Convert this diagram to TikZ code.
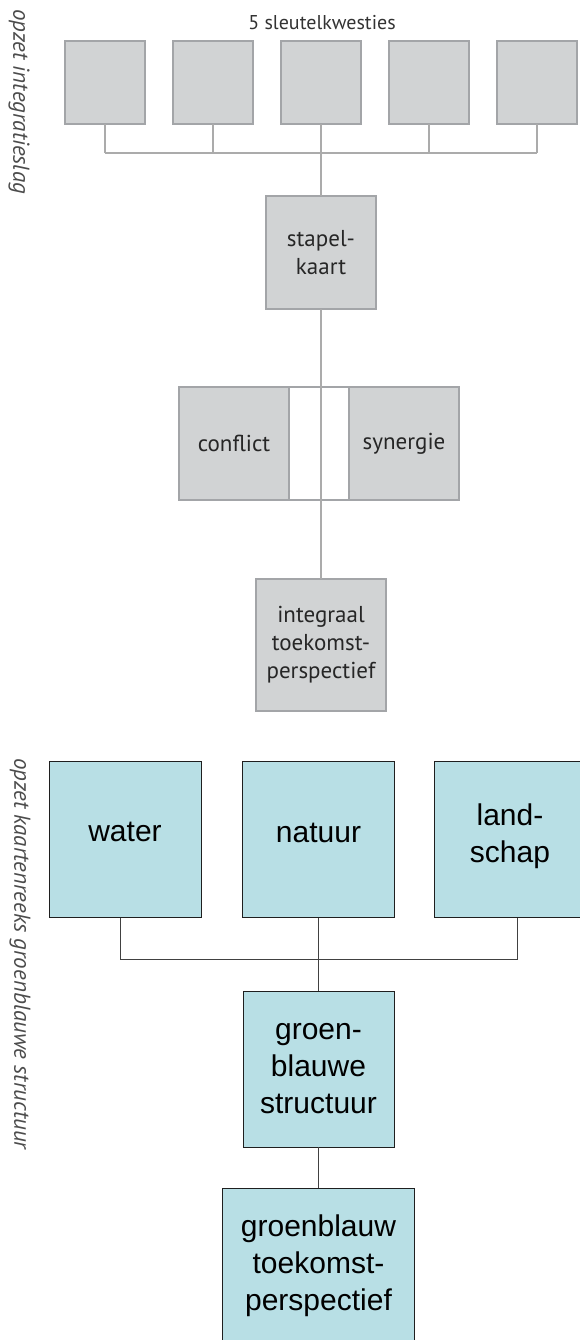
\documentclass[tikz,border=0pt]{standalone}
\usepackage{fontspec}
\setmainfont{Liberation Sans}
\newfontfamily\myriad{PT Sans}
\usepackage{xcolor}
\usepackage{tikz}
\definecolor{kaartgrijs}{HTML}{D1D3D4}
\definecolor{randgrijs}{HTML}{A3A5A8}
\definecolor{lijngrijs}{HTML}{ABABAB}
\definecolor{kaartblauw}{HTML}{B8DFE5}
\definecolor{randdonker}{HTML}{1F1F1F}

\begin{document}
\begin{tikzpicture}[x=1pt,y=-1pt,
  grijs/.style={draw=randgrijs,fill=kaartgrijs,line width=1.2pt,inner sep=0pt,outer sep=0pt,align=center,text=black!85,font=\myriad\fontsize{23}{28}\selectfont},
  blauw/.style={draw=randdonker,fill=kaartblauw,line width=1pt,inner sep=0pt,outer sep=0pt,align=center,minimum width=152pt,minimum height=156pt,font=\fontsize{30}{37}\selectfont},
  grijslijn/.style={draw=lijngrijs,line width=1.2pt},
  donkerlijn/.style={draw=randdonker!85,line width=1pt},
  zijtekst/.style={rotate=-90,anchor=west,inner sep=0pt,text=black!70,font=\myriad\itshape\fontsize{23}{27}\selectfont}]
\useasboundingbox (0,0) rectangle (580,1340);
\node[zijtekst] (label1) at (19,9) {opzet integratieslag};
\node[zijtekst] (label2) at (20,758) {opzet kaartenreeks groenblauwe structuur};

\node[text=black!80,font=\myriad\fontsize{20}{24}\selectfont] (titel) at (322,23) {5 sleutelkwesties};
\foreach \i in {1,...,5}
  \node[grijs,minimum width=80pt,minimum height=83pt] (kwestie\i) at ({105+108*(\i-1)},82.5) {};
\node[grijs,minimum width=110pt,minimum height=113pt] (stapel) at (321,252.5) {stapel-\\kaart};
\node[grijs,minimum width=110pt,minimum height=113pt] (conflict) at (234,443.5) {conflict};
\node[grijs,fill=white,minimum width=60pt,minimum height=113pt,anchor=west] (tussen) at (conflict.east) {};
\node[grijs,minimum width=110pt,minimum height=113pt,anchor=west,text depth=4pt] (synergie) at (tussen.east) {synergie};
\node[grijs,minimum width=130pt,minimum height=132pt] (integraal) at (321,645) {integraal\\toekomst-\\perspectief};

\coordinate (bus) at (321,153);
\foreach \i in {1,...,5}
  \draw[grijslijn] (kwestie\i.south) -- (kwestie\i.south |- bus);
\draw[grijslijn] (kwestie1.south |- bus) -- (kwestie5.south |- bus);
\draw[grijslijn] (kwestie3.south) -- (stapel.north);
\draw[grijslijn] (stapel.south) -- (integraal.north);

\node[blauw,text depth=16pt] (water) at (125,839.5) {water};
\node[blauw,text depth=14pt] (natuur) at (318.5,839.5) {natuur};
\node[blauw,text depth=13pt] (landschap) at (510,839.5) {land-\\schap};
\node[blauw,minimum width=151pt] (structuur) at (318.5,1069) {groen-\\blauwe\\structuur};
\node[blauw,minimum width=192pt] (perspectief) at (318.5,1266) {groenblauw\\toekomst-\\perspectief};

\coordinate (bus2) at (318.5,959);
\draw[donkerlijn] ([xshift=-5pt]water.south) |- (bus2) -| ([xshift=7pt]landschap.south);
\draw[donkerlijn] (natuur.south) -- (structuur.north);
\draw[donkerlijn] (structuur.south) -- (perspectief.north);
\end{tikzpicture}
\end{document}
